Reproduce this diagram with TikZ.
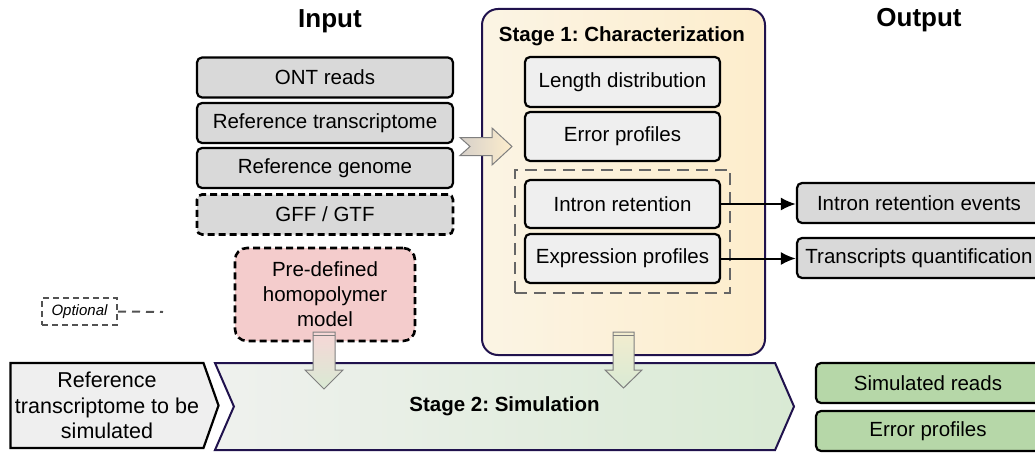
\documentclass[tikz,border=0pt]{standalone}
\usepackage{fontspec}
\setmainfont{Liberation Sans}
\frenchspacing
\usetikzlibrary{arrows.meta,fit,calc,shapes.symbols}
\definecolor{FlowNavy}{HTML}{20124D}
\definecolor{FlowGray}{HTML}{D9D9D9}
\definecolor{FlowGrayLight}{HTML}{EFEFEF}
\definecolor{FlowGreen}{HTML}{B6D7A8}
\definecolor{FlowPink}{HTML}{F4CCCC}
\definecolor{FlowDash}{HTML}{666666}
\definecolor{FlowEdge}{HTML}{7F7F7F}
\definecolor{FlowCreamA}{HTML}{FBF4E4}
\definecolor{FlowCreamB}{HTML}{FDEDCC}
\definecolor{FlowMintA}{HTML}{EFF1EE}
\definecolor{FlowMintB}{HTML}{D9EAD4}

\tikzset{
  txt/.style={font=\fontsize{20.5}{25}\selectfont},
  head/.style={font=\fontsize{26}{30}\selectfont\bfseries},
  inbox/.style={txt, draw=black, line width=2.2pt, fill=FlowGray, rounded corners=5pt,
    minimum width=256pt, minimum height=40pt},
  stepbox/.style={txt, draw=black, line width=2.2pt, fill=FlowGrayLight, rounded corners=5pt,
    minimum width=195pt, minimum height=49pt},
  outbox/.style={txt, draw=black, line width=2.2pt, rounded corners=5pt,
    minimum width=244pt, minimum height=40pt},
  blockarrow/.style={draw=FlowEdge, line width=1pt},
  link/.style={-{Latex[length=15pt,width=13pt]}, line width=2pt}
}

\begin{document}
\begin{tikzpicture}[x=1pt,y=-1pt]
    \useasboundingbox (0,0) rectangle (1035,452);

    % Input
    \node[head] (intitle) at (330,21) {Input};
    \node[inbox] (ont) at (325,77.5) {ONT reads};
    \node[inbox] (reftx) at (325,123) {Reference transcriptome};
    \node[inbox] (refgen) at (325,168) {Reference genome};
    \node[inbox, line width=2.6pt, dash pattern=on 7pt off 4pt] (gff) at (325,214.5) {GFF / GTF};
    \node[txt, draw=black, line width=2.6pt, dash pattern=on 7pt off 4pt, fill=FlowPink,
      rounded corners=12pt, minimum width=180pt, minimum height=93pt, align=center]
      (model) at (325,294.5) {Pre-defined\\homopolymer\\model};

    % Legend
    \node[draw=FlowDash!80!black, line width=2pt, dash pattern=on 6pt off 4pt,
      minimum width=75pt, minimum height=27pt, inner sep=0pt,
      font=\fontsize{15}{18}\selectfont\itshape] (optional) at (79.5,311.5) {Optional};
    \coordinate (optend) at (163,312);
    \draw[draw=FlowDash!80!black, line width=2pt, dash pattern=on 8pt off 6pt] (optional.east) -- (optend);

    % Stage 1
    \node[draw=FlowNavy, line width=2pt, rounded corners=16pt, left color=FlowCreamA, right color=FlowCreamB,
      minimum width=283pt, minimum height=346pt] (stageone) at (623.5,182) {};
    \node[txt, font=\fontsize{20.5}{25}\selectfont\bfseries] (onetitle) at (622,36) {Stage 1: Characterization};
    \node[stepbox, minimum height=50pt] (len) at (622.5,82) {Length distribution};
    \node[stepbox] (err) at (622.5,136.5) {Error profiles};
    \node[stepbox, minimum height=48pt] (intr) at (622.5,204) {Intron retention};
    \node[stepbox] (expr) at (622.5,258.5) {Expression profiles};
    \node[draw=FlowDash, line width=2.4pt, dash pattern=on 12pt off 7pt, inner sep=9pt,
      fit=(intr) (expr)] (group) {};

    % Output
    \node[head] (outtitle) at (919,20) {Output};
    \node[outbox, fill=FlowGray] (irev) at (919,203) {Intron retention events};
    \node[outbox, fill=FlowGray] (tq) at (919,258) {Transcripts quantification};
    \draw[link] (intr.east) -- (intr.east -| irev.west);
    \draw[link] (expr.east) -- (expr.east -| tq.west);

    % Stage 2
    \node[font=\fontsize{21.5}{25.5}\selectfont, draw=black, line width=2.2pt, fill=FlowGrayLight,
      signal, signal to=east, signal pointer angle=141, inner xsep=1pt,
      minimum width=208pt, minimum height=85pt, align=center]
      (refsim) at (107,405.5) {Reference\\transcriptome to be\\simulated};
    \node[txt, font=\fontsize{20.5}{25}\selectfont\bfseries, draw=FlowNavy, line width=2pt,
      signal, signal from=west, signal to=east, signal pointer angle=133,
      left color=FlowMintA, right color=FlowMintB, minimum width=579pt, minimum height=87pt]
      (stagetwo) at (504.5,406.5) {Stage 2: Simulation};
    \node[outbox, fill=FlowGreen, minimum width=224pt] (simreads) at (928,383) {Simulated reads};
    \node[outbox, fill=FlowGreen, minimum width=224pt] (errout) at (928,431) {Error profiles};

    % Block arrows
    \coordinate (inarrow) at (460,137.5);
    \draw[blockarrow, left color=FlowGray!90!brown, right color=FlowCreamB] (inarrow)
      -- ++(32,0) -- ++(0,-9.5) -- ++(20,18.5) -- ++(-20,18.5) -- ++(0,-9.5) -- ++(-32,0) -- ++(10,-9) -- cycle;
    \coordinate (onearrow) at (623.5,332);
    \draw[blockarrow, top color=FlowCreamB!70!FlowMintB, bottom color=FlowMintB] ($(onearrow)+(-10.5,0)$)
      -- ++(0,38) -- ++(-8,0) -- ++(18.5,18) -- ++(18.5,-18) -- ++(-8,0) -- ++(0,-38) -- cycle;
    \draw[FlowEdge, line width=1pt] ($(onearrow)+(-10.5,3)$) -- ++(21,0);
    \coordinate (modarrow) at (324,332);
    \draw[blockarrow, top color=FlowPink!80!white, bottom color=FlowMintB] ($(modarrow)+(-11,0)$)
      -- ++(0,38) -- ++(-8,0) -- ++(19,19) -- ++(19,-19) -- ++(-8,0) -- ++(0,-38) -- cycle;
    \draw[FlowEdge, line width=1pt] ($(modarrow)+(-11,3)$) -- ++(22,0);
\end{tikzpicture}
\end{document}
